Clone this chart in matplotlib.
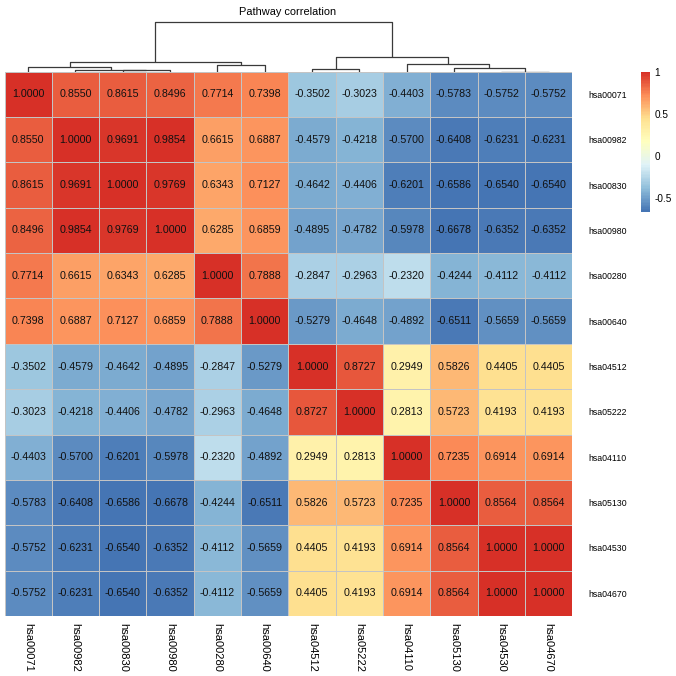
import numpy as np
import matplotlib
matplotlib.use("Agg")
import matplotlib.pyplot as plt
from matplotlib.colors import LinearSegmentedColormap, Normalize

plt.rcParams['font.family'] = ['Liberation Sans', 'DejaVu Sans']

pathways = ["hsa00071", "hsa00982", "hsa00830", "hsa00980", "hsa00280", "hsa00640",
            "hsa04512", "hsa05222", "hsa04110", "hsa05130", "hsa04530", "hsa04670"]

corr = [
    [1.0000, 0.8550, 0.8615, 0.8496, 0.7714, 0.7398, -0.3502, -0.3023, -0.4403, -0.5783, -0.5752, -0.5752],
    [0.8550, 1.0000, 0.9691, 0.9854, 0.6615, 0.6887, -0.4579, -0.4218, -0.5700, -0.6408, -0.6231, -0.6231],
    [0.8615, 0.9691, 1.0000, 0.9769, 0.6343, 0.7127, -0.4642, -0.4406, -0.6201, -0.6586, -0.6540, -0.6540],
    [0.8496, 0.9854, 0.9769, 1.0000, 0.6285, 0.6859, -0.4895, -0.4782, -0.5978, -0.6678, -0.6352, -0.6352],
    [0.7714, 0.6615, 0.6343, 0.6285, 1.0000, 0.7888, -0.2847, -0.2963, -0.2320, -0.4244, -0.4112, -0.4112],
    [0.7398, 0.6887, 0.7127, 0.6859, 0.7888, 1.0000, -0.5279, -0.4648, -0.4892, -0.6511, -0.5659, -0.5659],
    [-0.3502, -0.4579, -0.4642, -0.4895, -0.2847, -0.5279, 1.0000, 0.8727, 0.2949, 0.5826, 0.4405, 0.4405],
    [-0.3023, -0.4218, -0.4406, -0.4782, -0.2963, -0.4648, 0.8727, 1.0000, 0.2813, 0.5723, 0.4193, 0.4193],
    [-0.4403, -0.5700, -0.6201, -0.5978, -0.2320, -0.4892, 0.2949, 0.2813, 1.0000, 0.7235, 0.6914, 0.6914],
    [-0.5783, -0.6408, -0.6586, -0.6678, -0.4244, -0.6511, 0.5826, 0.5723, 0.7235, 1.0000, 0.8564, 0.8564],
    [-0.5752, -0.6231, -0.6540, -0.6352, -0.4112, -0.5659, 0.4405, 0.4193, 0.6914, 0.8564, 1.0000, 1.0000],
    [-0.5752, -0.6231, -0.6540, -0.6352, -0.4112, -0.5659, 0.4405, 0.4193, 0.6914, 0.8564, 1.0000, 1.0000],
]

# column tree (merge pairs, new node = 12 + index), heights relative to top merge
merges = [(10, 11), (2, 3), (1, 13), (6, 7), (9, 12), (0, 14), (4, 5), (8, 16), (17, 18), (15, 19), (20, 21)]
heights = [0.0, 0.024, 0.034, 0.048, 0.068, 0.088, 0.126, 0.144, 0.184, 0.288, 1.0]

cbar_ticks = [-0.5, 0, 0.5, 1]

data = np.array(corr)
n = len(pathways)

W = H = 676.0


def box(x0, y0, x1, y1):  # pixel box (top-left origin) -> fig rect
    return [x0 / W, 1 - y1 / H, (x1 - x0) / W, (y1 - y0) / H]


# pheatmap default palette
cmap = LinearSegmentedColormap.from_list(
    "rdylbu", ["#4575B4", "#91BFDB", "#E0F3F8", "#FFFFBF", "#FEE090", "#FC8D59", "#D73027"], N=100)
norm = Normalize(vmin=data.min(), vmax=data.max())

fig = plt.figure(figsize=(6.76, 6.76), dpi=100)

hx0, hx1, hy0, hy1 = 4.5, 572.3, 71.7, 616.0

# dendrogram
axd = fig.add_axes(box(hx0, 21.7, hx1, hy0))
pos = {i: i + 0.5 for i in range(n)}
hgt = {i: 0.0 for i in range(n)}
for k, ((a, b), h) in enumerate(zip(merges, heights)):
    axd.plot([pos[a], pos[a], pos[b], pos[b]], [hgt[a], h, h, hgt[b]],
             color="#3a3a3a", lw=0.9, clip_on=False, solid_capstyle="butt")
    pos[n + k] = (pos[a] + pos[b]) / 2
    hgt[n + k] = h
axd.set_xlim(0, n)
axd.set_ylim(0, 1)
axd.axis("off")

# heatmap
ax = fig.add_axes(box(hx0, hy0, hx1, hy1))
ax.pcolormesh(np.arange(n + 1), np.arange(n + 1), data, cmap=cmap, norm=norm,
              edgecolors="#c4c4c4", linewidth=0.7)
ax.set_xlim(0, n)
ax.set_ylim(n, 0)
for i in range(n):
    for j in range(n):
        ax.text(j + 0.5, i + 0.5, "%.4f" % data[i, j], ha="center", va="center",
                fontsize=7.7, color="#111111")
for s in ax.spines.values():
    s.set_visible(False)
ax.yaxis.tick_right()
ax.set_yticks(np.arange(n) + 0.5)
ax.set_yticklabels(pathways, fontsize=6.3)
ax.set_xticks(np.arange(n) + 0.5)
ax.set_xticklabels(pathways, fontsize=8.0, rotation=-90, ha="center", va="top")
ax.tick_params(axis="y", length=0, pad=11.5)
ax.tick_params(axis="x", length=0, pad=5)

# colorbar
cax = fig.add_axes(box(640.7, 71.7, 650.0, 211.7))
cb = fig.colorbar(plt.cm.ScalarMappable(norm=norm, cmap=cmap), cax=cax)
cb.outline.set_visible(False)
cb.set_ticks(cbar_ticks)
cb.set_ticklabels(["-0.5", "0", "0.5", "1"])
cax.tick_params(length=0, pad=3, labelsize=7.2)

fig.text(288 / W, 1 - 12 / H, "Pathway correlation", ha="center", va="center", fontsize=7.9)

fig.savefig("out.png", dpi=100)
